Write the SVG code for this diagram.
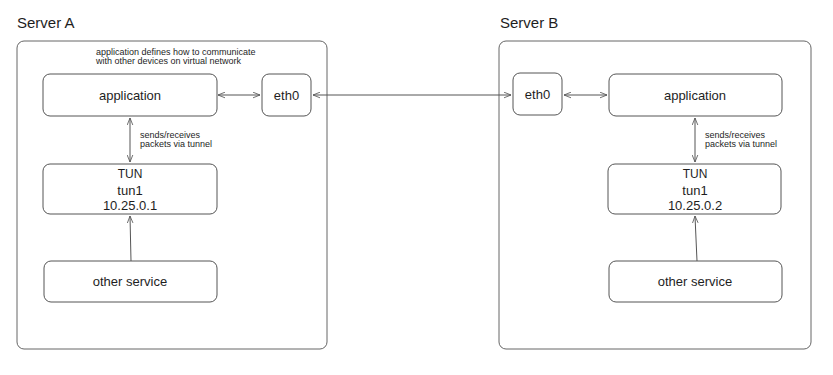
<svg xmlns="http://www.w3.org/2000/svg" width="833" height="375" viewBox="0 0 833 375">
<style>
.box{fill:#ffffff;stroke:#555555;stroke-width:1}
.outer{fill:#ffffff;stroke:#666666;stroke-width:1}
.t{font-family:"Liberation Sans",Arial,sans-serif;fill:#1e1e1e;text-anchor:middle}
.lbl{font-family:"Liberation Sans",Arial,sans-serif;fill:#1e1e1e;font-size:15px}
.small{font-family:"Liberation Sans",Arial,sans-serif;fill:#1e1e1e;font-size:9px}
.c{stroke:#555555;stroke-width:1;fill:none}
</style>
<defs>
<marker id="ah" viewBox="0 0 10 10" refX="10" refY="5" markerWidth="7" markerHeight="7" orient="auto-start-reverse" markerUnits="userSpaceOnUse">
<path d="M0,1 L10,5 L0,9" fill="none" stroke="#555555" stroke-width="1.2"/>
</marker>
</defs>
<rect width="833" height="375" fill="#ffffff"/>
<g id="serverA">
<text class="lbl" x="17" y="28">Server A</text>
<rect class="outer" x="17" y="41" width="310" height="308" rx="7"/>
<text class="small" x="96" y="55">application defines how to communicate</text>
<text class="small" x="96" y="64">with other devices on virtual network</text>
</g>
<g id="serverB">
<text class="lbl" x="500" y="28">Server B</text>
<rect class="outer" x="499" y="41" width="312" height="308" rx="7"/>
</g>
<g id="appA"><rect class="box" x="43" y="74" width="174" height="42" rx="7"/><text class="t" x="130" y="100" font-size="13">application</text></g>
<g id="eth0A"><rect class="box" x="262" y="74" width="49" height="42" rx="7"/><text class="t" x="286.5" y="100" font-size="13">eth0</text></g>
<g id="tunA"><rect class="box" x="43" y="164" width="174" height="50" rx="7"/><text class="t" x="130" y="178" font-size="12">TUN</text><text class="t" x="130" y="195" font-size="13">tun1</text><text class="t" x="130" y="210" font-size="13">10.25.0.1</text></g>
<g id="otherA"><rect class="box" x="44" y="261" width="173" height="41" rx="7"/><text class="t" x="130" y="286" font-size="13">other service</text></g>
<g id="eth0B"><rect class="box" x="513" y="73" width="49" height="42" rx="7"/><text class="t" x="537.5" y="99" font-size="13">eth0</text></g>
<g id="appB"><rect class="box" x="609" y="74" width="173" height="42" rx="7"/><text class="t" x="695" y="100" font-size="13">application</text></g>
<g id="tunB"><rect class="box" x="608" y="164" width="173" height="50" rx="7"/><text class="t" x="695" y="178" font-size="12">TUN</text><text class="t" x="695" y="195" font-size="13">tun1</text><text class="t" x="695" y="210" font-size="13">10.25.0.2</text></g>
<g id="otherB"><rect class="box" x="609" y="261" width="173" height="41" rx="7"/><text class="t" x="695" y="286" font-size="13">other service</text></g>
<g id="connectors">
<line class="c" x1="218" y1="95" x2="260" y2="95" marker-start="url(#ah)" marker-end="url(#ah)"/>
<line class="c" x1="313" y1="95" x2="511" y2="95" marker-start="url(#ah)" marker-end="url(#ah)"/>
<line class="c" x1="564" y1="95" x2="607" y2="95" marker-start="url(#ah)" marker-end="url(#ah)"/>
<line class="c" x1="130" y1="118" x2="130" y2="162" marker-start="url(#ah)" marker-end="url(#ah)"/>
<line class="c" x1="131" y1="261" x2="130" y2="216" marker-end="url(#ah)"/>
<line class="c" x1="695" y1="118" x2="695" y2="162" marker-start="url(#ah)" marker-end="url(#ah)"/>
<line class="c" x1="697" y1="261" x2="695" y2="216" marker-end="url(#ah)"/>
<text class="small" x="140" y="138">sends/receives</text>
<text class="small" x="140" y="147">packets via tunnel</text>
<text class="small" x="705" y="138">sends/receives</text>
<text class="small" x="705" y="147">packets via tunnel</text>
</g>
</svg>
